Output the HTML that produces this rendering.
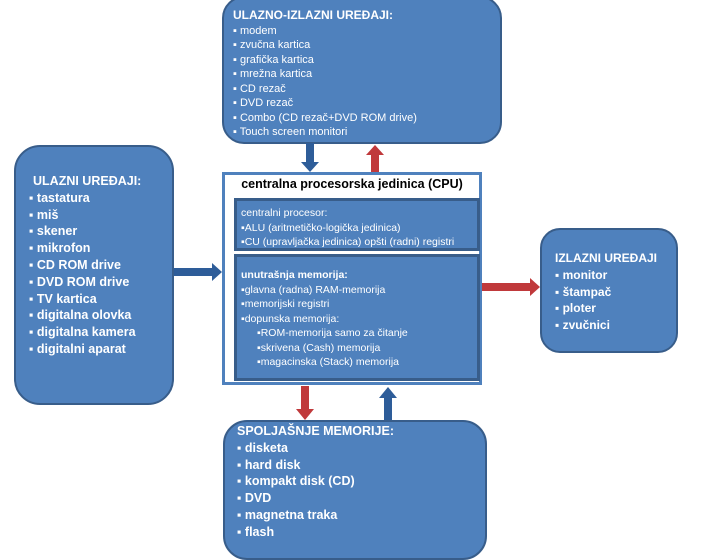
<!DOCTYPE html>
<html><head><meta charset="utf-8"><style>
body{margin:0;width:720px;height:540px;background:#fff;position:relative;overflow:hidden;font-family:"Liberation Sans",sans-serif;color:#fff}
.b{position:absolute;background:#4f81bd;border:2px solid #385d8a;box-sizing:border-box}
.t{position:absolute;font-size:11px;line-height:14.5px;white-space:nowrap}
.big{font-size:12.5px;line-height:16.8px;font-weight:bold}
</style></head><body>
<div class="b" style="left:222px;top:-4px;width:280px;height:148px;border-radius:22px"></div>
<div class="t" style="left:233px;top:8px"><b style="font-size:12px">ULAZNO-IZLAZNI UREĐAJI:</b><br>▪ modem<br>▪ zvučna kartica<br>▪ grafička kartica<br>▪ mrežna kartica<br>▪ CD rezač<br>▪ DVD rezač<br>▪ Combo (CD rezač+DVD ROM drive)<br>▪ Touch screen monitori</div>

<div class="b" style="left:14px;top:145px;width:160px;height:260px;border-radius:26px"></div>
<div class="t big" style="left:29px;top:173px"><span style="margin-left:4px">ULAZNI UREĐAJI:</span><br>▪ tastatura<br>▪ miš<br>▪ skener<br>▪ mikrofon<br>▪ CD ROM drive<br>▪ DVD ROM drive<br>▪ TV kartica<br>▪ digitalna olovka<br>▪ digitalna kamera<br>▪ digitalni aparat</div>

<div style="position:absolute;left:222px;top:172px;width:260px;height:213px;border:3px solid #4f81bd;box-sizing:border-box;background:#fff"></div>
<div style="position:absolute;left:222px;top:177px;width:260px;text-align:center;color:#000;font-size:12.5px;font-weight:bold">centralna procesorska jedinica (CPU)</div>
<div class="b" style="left:234px;top:198px;width:246px;height:53px;border-width:3px"></div>
<div class="t" style="left:241px;top:206px;font-size:10.5px">centralni procesor:<br>▪ALU (aritmetičko-logička jedinica)<br>▪CU (upravljačka jedinica) opšti (radni) registri</div>
<div class="b" style="left:234px;top:254px;width:246px;height:127px;border-width:3px"></div>
<div class="t" style="left:241px;top:268px;font-size:10.5px"><b>unutrašnja memorija:</b><br>▪glavna (radna) RAM-memorija<br>▪memorijski registri<br>▪dopunska memorija:<br><span style="margin-left:16px">▪ROM-memorija samo za čitanje</span><br><span style="margin-left:16px">▪skrivena (Cash) memorija</span><br><span style="margin-left:16px">▪magacinska (Stack) memorija</span></div>

<div class="b" style="left:540px;top:228px;width:138px;height:125px;border-radius:20px"></div>
<div class="t" style="left:555px;top:250px;font-size:12px;line-height:16.8px;font-weight:bold">IZLAZNI UREĐAJI<br>▪ monitor<br>▪ štampač<br>▪ ploter<br>▪ zvučnici</div>

<div class="b" style="left:223px;top:420px;width:264px;height:140px;border-radius:24px"></div>
<div class="t big" style="left:237px;top:423px">SPOLJAŠNJE MEMORIJE:<br>▪ disketa<br>▪ hard disk<br>▪ kompakt disk (CD)<br>▪ DVD<br>▪ magnetna traka<br>▪ flash</div>

<svg width="720" height="540" style="position:absolute;left:0;top:0">
<!-- top blue down -->
<polygon points="306,143 314,143 314,162 319,162 310,172 301,162 306,162" fill="#2e5d99"/>
<!-- top red up -->
<polygon points="371,172 379,172 379,155 384,155 375,145 366,155 371,155" fill="#c0393b"/>
<!-- left blue right -->
<polygon points="174,268 212,268 212,263 222,272 212,281 212,276 174,276" fill="#2e5d99"/>
<!-- right red -->
<polygon points="482,283 530,283 530,278 540,287 530,296 530,291 482,291" fill="#c0393b"/>
<!-- bottom red down -->
<polygon points="301,386 309,386 309,409 314,409 305,420 296,409 301,409" fill="#c0393b"/>
<!-- bottom blue up -->
<polygon points="384,420 392,420 392,398 397,398 388,387 379,398 384,398" fill="#2e5d99"/>
</svg>
</body></html>
